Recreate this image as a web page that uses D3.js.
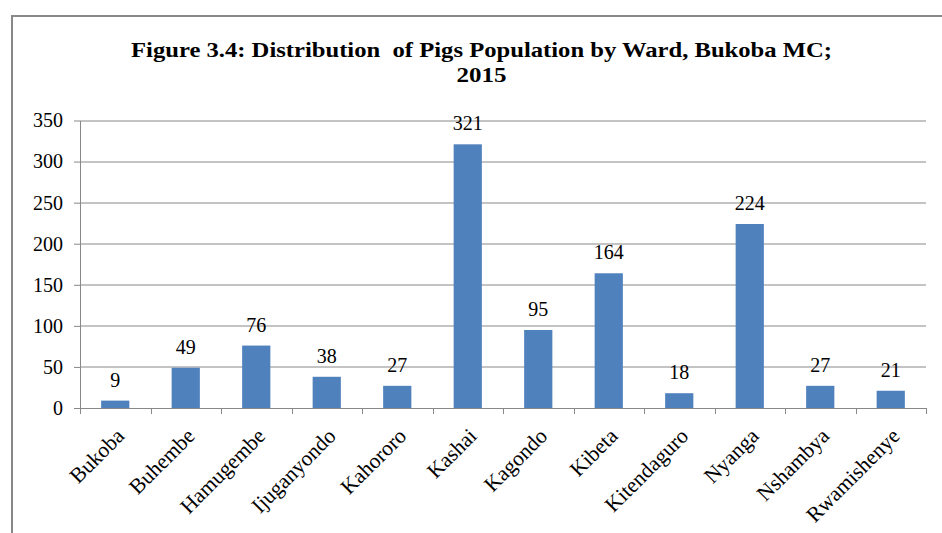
<!DOCTYPE html>
<html>
<head>
<meta charset="utf-8">
<script src="https://cdn.jsdelivr.net/npm/d3@7"></script>
<style>
  html, body { margin: 0; padding: 0; background: #fff; }
  svg { display: block; }
  text { font-family: "Liberation Serif", "Times New Roman", Tinos, "DejaVu Serif", serif; }
</style>
</head>
<body>
<svg id="chart" width="942" height="533"></svg>
<script>
const categories = ["Bukoba","Buhembe","Hamugembe","Ijuganyondo","Kahororo","Kashai","Kagondo","Kibeta","Kitendaguro","Nyanga","Nshambya","Rwamishenye"];
const values = [9,49,76,38,27,321,95,164,18,224,27,21];
const yTicks = [0,50,100,150,200,250,300,350];
const titleLines = ["Figure 3.4: Distribution  of Pigs Population by Ward, Bukoba MC;", "2015"];

const svg = d3.select("#chart");
const W = 942, H = 533;
const m = {left: 80, right: 16, top: 120.5, bottom: 125};
const plotW = W - m.left - m.right;
const plotH = H - m.top - m.bottom;

svg.append("rect").attr("width", W).attr("height", H).attr("fill", "#fff");

svg.append("path")
  .attr("d", `M12,${H} L12,16 L${W},16`)
  .attr("fill", "none").attr("stroke", "#888").attr("stroke-width", 2);

const titleLen = [701, 50];
svg.append("g").selectAll("text").data(titleLines).join("text")
  .attr("x", 481.5).attr("y", (d, i) => i === 0 ? 57 : 82)
  .attr("text-anchor", "middle")
  .attr("font-weight", "bold").attr("font-size", 22)
  .attr("fill", "#000")
  .attr("textLength", (d, i) => titleLen[i])
  .attr("lengthAdjust", "spacingAndGlyphs")
  .style("white-space", "pre")
  .text(d => d);

const x = d3.scaleBand().domain(categories).range([0, plotW]).paddingInner(0.6).paddingOuter(0.3);
const y = d3.scaleLinear().domain([0, 350]).range([plotH, 0]);

const g = svg.append("g").attr("transform", `translate(${m.left},${m.top})`);

g.append("g").selectAll("line").data(yTicks.filter(t => t > 0)).join("line")
  .attr("x1", 0).attr("x2", plotW)
  .attr("y1", d => Math.round(y(d)) + 0.5).attr("y2", d => Math.round(y(d)) + 0.5)
  .attr("stroke", "#888").attr("stroke-width", 1);

g.append("g").selectAll("rect").data(values).join("rect")
  .attr("x", (d, i) => x(categories[i]))
  .attr("width", x.bandwidth())
  .attr("y", d => y(d))
  .attr("height", d => plotH - y(d))
  .attr("fill", "#4F81BD");

g.append("g").selectAll("text").data(values).join("text")
  .attr("x", (d, i) => x(categories[i]) + x.bandwidth() / 2)
  .attr("y", d => y(d) - 14)
  .attr("text-anchor", "middle")
  .attr("font-size", 20).attr("fill", "#000")
  .text(d => d);

const yAxis = g.append("g").call(d3.axisLeft(y).tickValues(yTicks).tickSize(6).tickPadding(11).tickSizeOuter(0));
yAxis.attr("font-family", null);
yAxis.select(".domain").attr("stroke", "#888");
yAxis.selectAll(".tick line").attr("stroke", "#888");
yAxis.selectAll(".tick text").attr("font-size", 20).attr("fill", "#000");

const xAxisG = g.append("g").attr("transform", `translate(0,${plotH})`);
xAxisG.append("line").attr("x1", 0).attr("x2", plotW).attr("y1", 0.5).attr("y2", 0.5).attr("stroke", "#888");
const edges = d3.range(categories.length + 1).map(i => i * x.step());
xAxisG.selectAll("line.tk").data(edges).join("line").attr("class", "tk")
  .attr("x1", d => Math.round(d) + 0.5).attr("x2", d => Math.round(d) + 0.5)
  .attr("y1", 0).attr("y2", 6).attr("stroke", "#888");

xAxisG.selectAll("text").data(categories).join("text")
  .attr("transform", d => `translate(${x(d) + x.bandwidth() / 2 + 5},24) rotate(-45)`)
  .attr("dy", "0.35em")
  .attr("text-anchor", "end")
  .attr("font-size", 21.5).attr("fill", "#000")
  .text(d => d);
</script>
</body>
</html>
